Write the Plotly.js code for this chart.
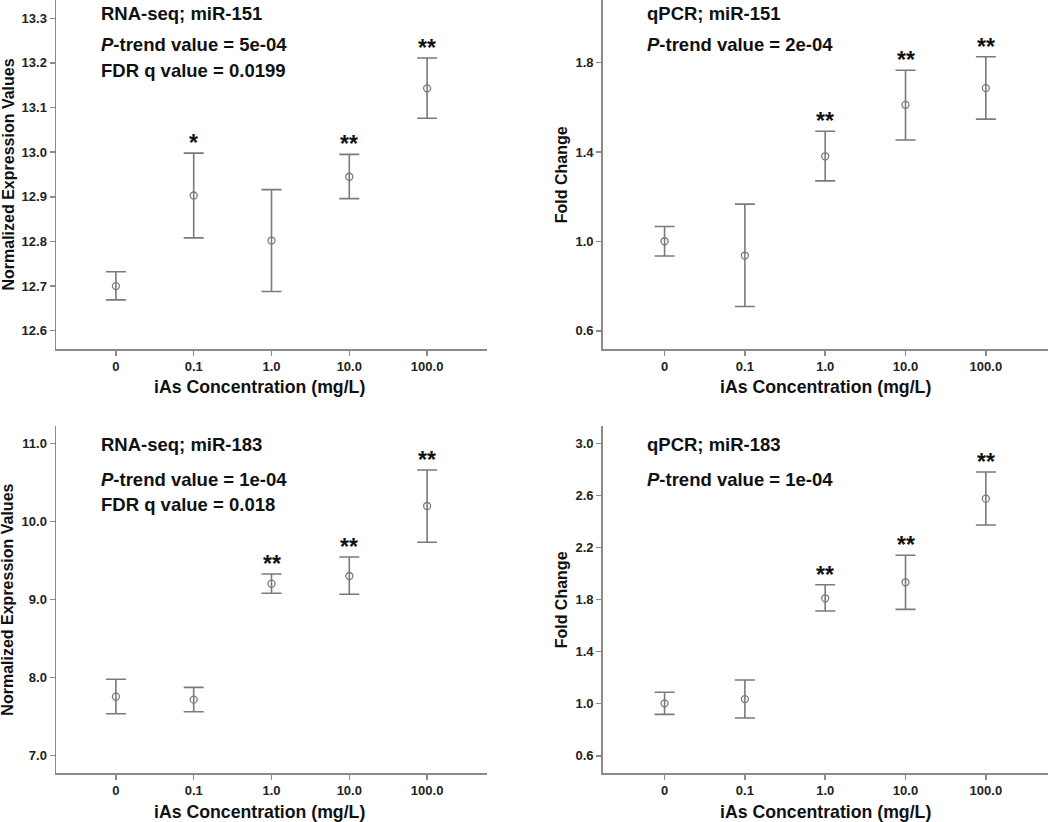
<!DOCTYPE html>
<html>
<head>
<meta charset="utf-8">
<script src="https://cdn.plot.ly/plotly-3.0.1.min.js"></script>
<style>html,body{margin:0;padding:0;background:#fff;}#chart{width:1050px;height:822px;}</style>
</head>
<body>
<div id="chart"></div>
<script>
// ---- data ----
const categories = ['0', '0.1', '1.0', '10.0', '100.0'];

const rnaseq151Mean  = [12.700, 12.903, 12.802, 12.945, 13.143];
const rnaseq151Upper = [12.732, 12.998, 12.916, 12.995, 13.211];
const rnaseq151Lower = [12.669, 12.808, 12.688, 12.896, 13.076];
const rnaseq151Stars = ['', '*', '', '**', '**'];

const qpcr151Mean  = [1.001, 0.937, 1.381, 1.611, 1.686];
const qpcr151Upper = [1.067, 1.167, 1.493, 1.766, 1.826];
const qpcr151Lower = [0.935, 0.709, 1.271, 1.454, 1.547];
const qpcr151Stars = ['', '', '**', '**', '**'];

const rnaseq183Mean  = [7.756, 7.718, 9.205, 9.304, 10.201];
const rnaseq183Upper = [7.979, 7.876, 9.329, 9.547, 10.663];
const rnaseq183Lower = [7.538, 7.564, 9.082, 9.069, 9.736];
const rnaseq183Stars = ['', '', '**', '**', '**'];

const qpcr183Mean  = [1.003, 1.036, 1.811, 1.934, 2.577];
const qpcr183Upper = [1.088, 1.182, 1.915, 2.142, 2.782];
const qpcr183Lower = [0.918, 0.890, 1.713, 1.726, 2.375];
const qpcr183Stars = ['', '', '**', '**', '**'];

const panelTitles = ['RNA-seq; miR-151', 'qPCR; miR-151', 'RNA-seq; miR-183', 'qPCR; miR-183'];
const pTrend = ['5e-04', '2e-04', '1e-04', '1e-04'];
const fdrQ = ['0.0199', null, '0.018', null];
const yTitles = ['Normalized Expression Values', 'Fold Change', 'Normalized Expression Values', 'Fold Change'];
const xTitle = 'iAs Concentration (mg/L)';

// ---- styling / layout ----
const W = 1050, H = 822;
const FONT = 'Liberation Sans, Arial, sans-serif';
const axisGray = '#8a8a8a';
const markGray = '#7a7a7a';

const panels = [
  {mean: rnaseq151Mean, up: rnaseq151Upper, lo: rnaseq151Lower, stars: rnaseq151Stars,
   px: [56, 487], py: [0, 349], yrange: [12.559, 13.341], tick0: 12.6, dtick: 0.1},
  {mean: qpcr151Mean, up: qpcr151Upper, lo: qpcr151Lower, stars: qpcr151Stars,
   px: [602.7, 1047.7], py: [0, 349], yrange: [0.519, 2.080], tick0: 0.6, dtick: 0.4},
  {mean: rnaseq183Mean, up: rnaseq183Upper, lo: rnaseq183Lower, stars: rnaseq183Stars,
   px: [56, 487], py: [426, 773.3], yrange: [6.774, 11.227], tick0: 7, dtick: 1},
  {mean: qpcr183Mean, up: qpcr183Upper, lo: qpcr183Lower, stars: qpcr183Stars,
   px: [602.7, 1047.7], py: [426, 773.3], yrange: [0.465, 3.136], tick0: 0.6, dtick: 0.4}
];

const data = [];
const layout = {
  width: W, height: H,
  margin: {l: 0, r: 0, t: 0, b: 0},
  paper_bgcolor: '#fff', plot_bgcolor: '#fff',
  showlegend: false,
  font: {family: FONT, color: '#111'},
  annotations: []
};

panels.forEach((p, i) => {
  const n = i === 0 ? '' : String(i + 1);
  const xa = 'x' + n, ya = 'y' + n;
  data.push({
    type: 'scatter', mode: 'markers', x: categories, y: p.mean,
    xaxis: xa, yaxis: ya,
    marker: {symbol: 'circle-open', size: 7, color: markGray, line: {width: 1.3, color: markGray}},
    error_y: {type: 'data', symmetric: false,
      array: p.up.map((u, k) => u - p.mean[k]),
      arrayminus: p.lo.map((l, k) => p.mean[k] - l),
      color: markGray, thickness: 1.6, width: 10},
    hoverinfo: 'skip'
  });
  const xd = [p.px[0] / W, p.px[1] / W];
  const yd = [1 - p.py[1] / H, 1 - p.py[0] / H];
  layout['xaxis' + n] = {
    type: 'category', categoryorder: 'array', categoryarray: categories,
    range: [-0.77, 4.77], domain: xd, anchor: ya,
    showline: true, linecolor: axisGray, linewidth: 1.5,
    ticks: 'outside', ticklen: 5, tickcolor: axisGray, tickwidth: 1.5,
    showgrid: false, zeroline: false,
    tickfont: {family: FONT, size: 13, color: '#222', weight: 'bold'}
  };
  layout['yaxis' + n] = {
    range: p.yrange, domain: yd, anchor: xa,
    tick0: p.tick0, dtick: p.dtick, tickformat: '.1f',
    showline: true, linecolor: axisGray, linewidth: 1.5,
    ticks: 'outside', ticklen: 5, tickcolor: axisGray, tickwidth: 1.5,
    showgrid: false, zeroline: false,
    tickfont: {family: FONT, size: 13, color: '#222', weight: 'bold'}
  };
  // significance stars (x given as category index)
  p.stars.forEach((s, k) => {
    if (!s) return;
    layout.annotations.push({
      xref: xa, yref: ya, x: k, y: p.up[k], text: s,
      showarrow: false, xanchor: 'center', yanchor: 'bottom', yshift: -5,
      font: {family: FONT, size: 23, color: '#111', weight: 'bold'}
    });
  });
  // panel texts
  const left = i % 2 === 0 ? 99 : 645;
  const top = i < 2 ? 0 : 426;
  const tOff = i < 2 ? [13, 45, 70] : [19, 53, 78];
  const txt = (t, yy) => layout.annotations.push({
    xref: 'paper', yref: 'paper', x: left / W, y: 1 - (top + yy) / H, text: t,
    showarrow: false, xanchor: 'left', yanchor: 'middle',
    font: {family: FONT, size: 18.5, color: '#111', weight: 'bold'}
  });
  txt(panelTitles[i], tOff[0]);
  txt('<i>P</i>-trend value = ' + pTrend[i], tOff[1]);
  if (fdrQ[i]) txt('FDR q value = ' + fdrQ[i], tOff[2]);
  // axis titles
  const ytx = i % 2 === 0 ? 8 : 561.7;
  const ytyC = (p.py[0] + p.py[1]) / 2;
  layout.annotations.push({
    xref: 'paper', yref: 'paper', x: ytx / W, y: 1 - ytyC / H, text: yTitles[i],
    showarrow: false, textangle: -90, xanchor: 'center', yanchor: 'middle',
    font: {family: FONT, size: 16, color: '#111', weight: 'bold'}
  });
  const xtx = i % 2 === 0 ? 259 : 825;
  const xty = i < 2 ? 387 : 811.7;
  layout.annotations.push({
    xref: 'paper', yref: 'paper', x: xtx / W, y: 1 - xty / H, text: xTitle,
    showarrow: false, xanchor: 'center', yanchor: 'middle',
    font: {family: FONT, size: 17.7, color: '#111', weight: 'bold'}
  });
});

Plotly.newPlot('chart', data, layout, {displayModeBar: false, staticPlot: true});
</script>
</body>
</html>
